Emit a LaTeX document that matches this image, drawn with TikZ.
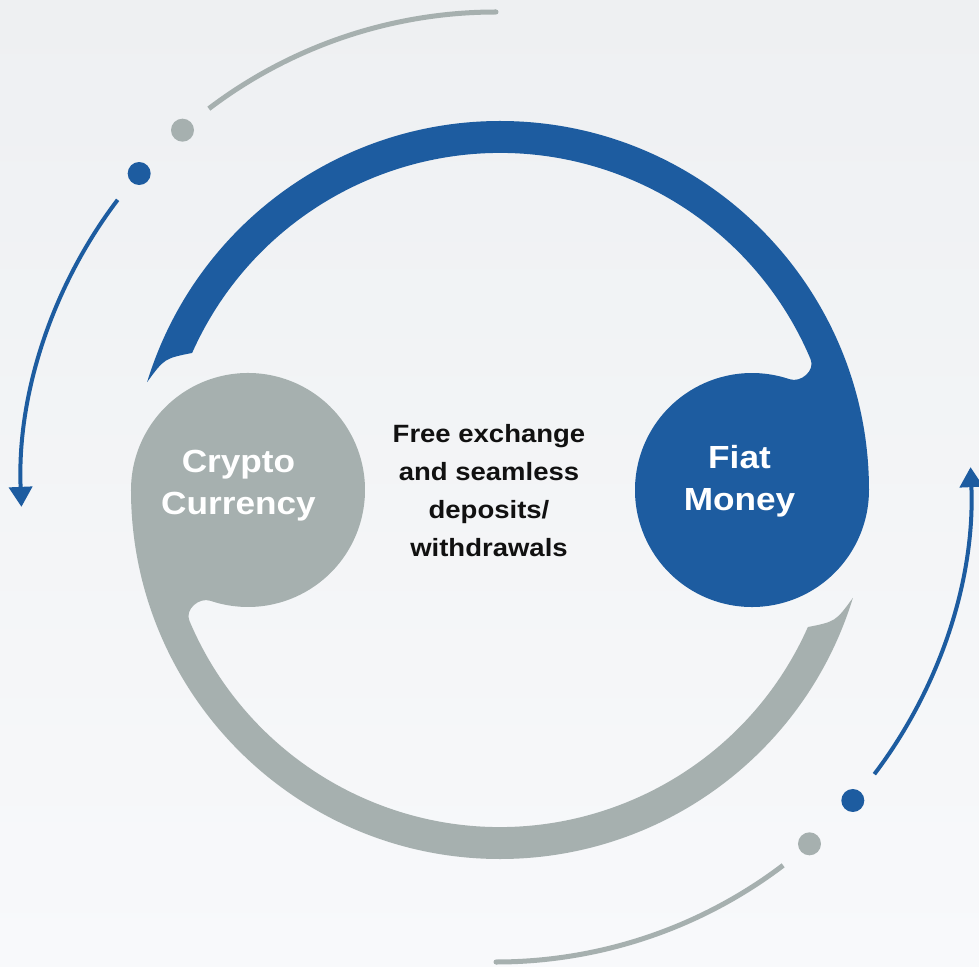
\documentclass[tikz,border=0pt]{standalone}
\usepackage{fontspec}
\setmainfont{Liberation Sans}[FakeStretch=1.1]
\usetikzlibrary{arrows.meta}
\definecolor{ringblue}{HTML}{1D5CA0}
\definecolor{ringgrey}{HTML}{A6B0AF}
\definecolor{bgtop}{HTML}{EEF0F2}
\definecolor{bgbottom}{HTML}{F8F9FB}
\definecolor{inkdark}{HTML}{111111}
\begin{document}
\begin{tikzpicture}[x=1pt,y=1pt,
  circtext/.style={text=white, align=center, inner sep=0pt,
    font=\bfseries\fontsize{32}{42}\selectfont},
  midtext/.style={text=inkdark, align=center, inner sep=0pt,
    font=\bfseries\fontsize{25}{38}\selectfont},
  orbitgrey/.style={draw=ringgrey, line width=5pt},
  orbitblue/.style={draw=ringblue, line width=4pt,
    -{Triangle[length=20pt,width=23pt]}},
  dot/.style={circle, inner sep=0pt, minimum size=23pt}]

% background
\shade[top color=bgtop, bottom color=bgbottom] (-500,-476) rectangle (479,490);
\useasboundingbox (-500,-476) rectangle (479,490);

% blue swoosh ending in the Fiat Money disc
\fill[ringblue] (0:369) arc[start angle=0, end angle=163, radius=369]
  .. controls (-335.6,131.5) .. (156:337)
  arc[start angle=156, end angle=22.8, radius=337]
  .. controls (315.3,119.5) and (300.9,106.9) .. (289.5,110.8)
  arc[start angle=71.3, end angle=360, radius=117]
  -- cycle;

% grey swoosh ending in the Crypto Currency disc (same shape, turned over)
\fill[ringgrey, rotate=180] (0:369) arc[start angle=0, end angle=163, radius=369]
  .. controls (-335.6,131.5) .. (156:337)
  arc[start angle=156, end angle=22.8, radius=337]
  .. controls (315.3,119.5) and (300.9,106.9) .. (289.5,110.8)
  arc[start angle=71.3, end angle=360, radius=117]
  -- cycle;

% labels
\node[circtext] (fiat) at (239.5,9.2) {Fiat\\Money};
\node[circtext] (crypto) at (-261.5,4) {Crypto\\Currency};
\node[midtext] (middle) at (-11,-0.9) {Free exchange\\and seamless\\deposits/\\withdrawals};

% outer orbit, upper left
\begin{scope}[shift={(-4,3)}]
  \draw[orbitgrey] (127.2:475) arc[start angle=127.2, end angle=90, radius=475];
  \fill[ringgrey] (90:475) circle (2.5);
  \node[dot, fill=ringgrey] (gdotA) at (131.3:475) {};
  \node[dot, fill=ringblue] (bdotA) at (138.7:475) {};
  \draw[orbitblue] (142.8:475) arc[start angle=142.8, end angle=182.4, radius=475];
\end{scope}

% outer orbit, lower right
\begin{scope}[shift={(-4,3)}]
  \draw[orbitgrey] (307.2:475) arc[start angle=307.2, end angle=270, radius=475];
  \fill[ringgrey] (270:475) circle (2.5);
  \node[dot, fill=ringgrey] (gdotB) at (311.3:475) {};
  \node[dot, fill=ringblue] (bdotB) at (318.7:475) {};
  \draw[orbitblue] (322.8:475) arc[start angle=322.8, end angle=362.4, radius=475];
\end{scope}
\end{tikzpicture}
\end{document}
